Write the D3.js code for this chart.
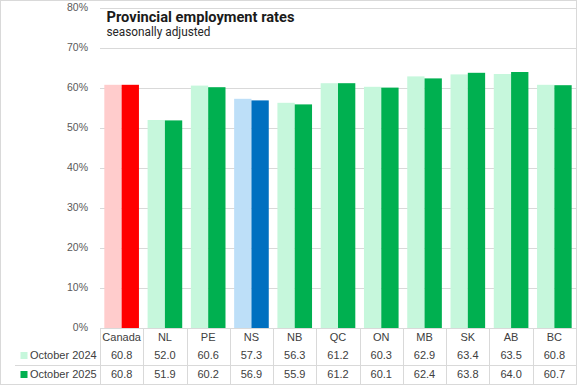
<!DOCTYPE html>
<html><head><meta charset="utf-8">
<script src="https://cdn.jsdelivr.net/npm/d3@7"></script>
<style>
html,body{margin:0;padding:0;background:#fff;}
svg{display:block;}
</style></head>
<body>
<script>
const categories = ["Canada","NL","PE","NS","NB","QC","ON","MB","SK","AB","BC"];
const seriesNames = ["October 2024","October 2025"];
const oct2024 = [60.8,52.0,60.6,57.3,56.3,61.2,60.3,62.9,63.4,63.5,60.8];
const oct2025 = [60.8,51.9,60.2,56.9,55.9,61.2,60.1,62.4,63.8,64.0,60.7];
const yTicks = [0,10,20,30,40,50,60,70,80];
const title = "Provincial employment rates";
const subtitle = "seasonally adjusted";

const lightColors = {Canada:"#FFCCCC", NS:"#BDDFF8"};
const darkColors = {Canada:"#FF0000", NS:"#0070C0"};
const greenLight = "#C6F7DC", greenDark = "#00B050";

const W = 577, H = 385;
const svg = d3.select("body").append("svg").attr("width",W).attr("height",H);

svg.append("rect").attr("x",0.5).attr("y",0.5).attr("width",W-1).attr("height",H-1)
  .attr("fill","#fff").attr("stroke","#D9D9D9");

const x0 = d3.scaleBand().domain(categories).range([100,576]).paddingInner(0).paddingOuter(0);
const x1 = d3.scaleBand().domain(seriesNames).range([0,x0.bandwidth()]).paddingInner(0).paddingOuter(0.25);
const y = d3.scaleLinear().domain([0,80]).range([328,8]);

// gridlines
svg.append("g").selectAll("line").data(yTicks).join("line")
  .attr("x1",100).attr("x2",576)
  .attr("y1",d=>Math.round(y(d))+0.5).attr("y2",d=>Math.round(y(d))+0.5)
  .attr("stroke","#D9D9D9").attr("stroke-width",1);

// y labels
svg.append("g").selectAll("text").data(yTicks).join("text")
  .attr("x",88).attr("y",d=>y(d)).attr("dy","0.32em")
  .attr("text-anchor","end")
  .attr("font-family","Liberation Sans, Arial, sans-serif").attr("font-size","10.5px")
  .attr("fill","#595959").text(d=>d+"%");

// bars
const data = categories.map((c,i)=>({c, v:[oct2024[i],oct2025[i]]}));
const g = svg.append("g");
data.forEach(d=>{
  seriesNames.forEach((s,j)=>{
    const col = j===0 ? (lightColors[d.c]||greenLight) : (darkColors[d.c]||greenDark);
    g.append("rect")
      .attr("x",x0(d.c)+x1(s)).attr("width",x1.bandwidth())
      .attr("y",y(d.v[j])).attr("height",y(0)-y(d.v[j]))
      .attr("fill",col);
  });
});

// axis line
svg.append("line").attr("x1",100).attr("x2",576).attr("y1",328.5).attr("y2",328.5)
  .attr("stroke","#D9D9D9");

// table
const tbl = svg.append("g");
const bounds = categories.map(c=>x0(c)).concat([576]);
tbl.selectAll("line.v").data(bounds).join("line")
  .attr("x1",d=>Math.round(d)+0.5).attr("x2",d=>Math.round(d)+0.5)
  .attr("y1",328).attr("y2",384).attr("stroke","#D9D9D9");
tbl.append("line").attr("x1",15).attr("x2",576).attr("y1",365.5).attr("y2",365.5).attr("stroke","#D9D9D9");

const font = "Liberation Sans, Arial, sans-serif";
tbl.selectAll("text.cat").data(categories).join("text")
  .attr("x",d=>x0(d)+x0.bandwidth()/2).attr("y",341)
  .attr("text-anchor","middle").attr("font-family",font).attr("font-size","11px")
  .attr("fill","#404040").text(d=>d);

const rows = [oct2024, oct2025];
const rowY = [358.5, 377.5];
rows.forEach((vals,r)=>{
  tbl.append("g").selectAll("text").data(vals).join("text")
    .attr("x",(d,i)=>x0(categories[i])+x0.bandwidth()/2).attr("y",rowY[r])
    .attr("text-anchor","middle").attr("font-family",font).attr("font-size","11px")
    .attr("fill","#404040").text(d=>d.toFixed(1));
  tbl.append("rect").attr("x",20.5).attr("y",rowY[r]-6.5).attr("width",7).attr("height",7)
    .attr("fill", r===0?greenLight:greenDark);
  tbl.append("text").attr("x",30).attr("y",rowY[r])
    .attr("font-family",font).attr("font-size","11px").attr("fill","#404040")
    .text(seriesNames[r]);
});

// title
svg.append("text").attr("x",106.5).attr("y",22)
  .attr("font-family","Roboto, Arial, sans-serif").attr("font-weight","bold")
  .attr("font-size","15px").attr("fill","#1a1a1a")
  .attr("textLength",188).attr("lengthAdjust","spacingAndGlyphs")
  .text(title);
svg.append("text").attr("x",106.5).attr("y",36)
  .attr("font-family","Roboto, Arial, sans-serif")
  .attr("font-size","12px").attr("fill","#262626")
  .attr("textLength",104).attr("lengthAdjust","spacingAndGlyphs")
  .text(subtitle);
</script>
</body></html>
